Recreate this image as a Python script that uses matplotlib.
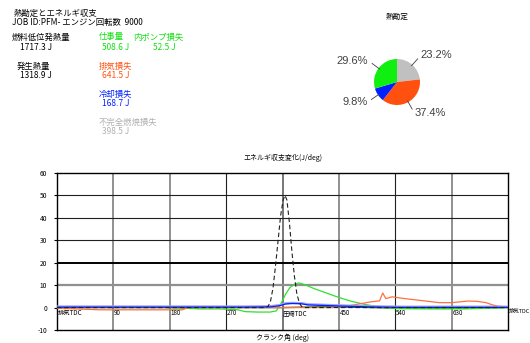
import matplotlib
matplotlib.use('Agg')
import matplotlib.pyplot as plt
import numpy as np

plt.rcParams['font.family'] = ['Noto Sans CJK JP', 'DejaVu Sans']

# 熱勘定 (J)
heat_labels = ['不完全燃焼損失', '排気損失', '冷却損失', '仕事量']
heat_values = [398.5, 641.5, 168.7, 508.6]
heat_colors = ['#c0c0c0', '#ff5010', '#0020ff', '#10f010']
fuel_lhv = 1717.3
heat_generated = 1318.9
pump_loss = 52.5
engine_speed = 9000

# エネルギ収支変化 (J/deg)
deg_heat = [0, 330, 337, 341, 345, 349, 353, 357, 361, 364, 367, 371, 375, 379, 383, 387, 391, 395, 720]
val_heat = [0, 0, 0.5, 3, 9, 19, 30, 41, 48, 50, 48, 38, 25, 14, 6, 2, 0.3, 0, 0]

deg_work = [0, 10, 60, 120, 160, 175, 200, 228, 260, 289, 300, 320, 340, 350, 358, 365, 372,
            380, 386, 395, 410, 430, 450, 470, 490, 510, 530, 545, 600, 650, 690, 720]
val_work = [0, 0.3, 0.3, 0.3, 0.3, 0, -0.3, -0.6, -0.6, -1, -1.8, -2, -2, -1.5, 2, 6, 9,
            10.5, 11, 10.3, 8.5, 6.5, 4.5, 2.8, 1.5, 0.5, -0.2, -0.5, -0.6, -0.6, -0.3, 0]

deg_cool = [0, 300, 340, 355, 365, 375, 390, 400, 420, 450, 500, 550, 720]
val_cool = [0.2, 0.2, 0.3, 0.8, 1.6, 1.8, 1.7, 1.2, 1.0, 0.7, 0.3, 0.1, 0.1]

deg_exh = [0, 20, 70, 150, 200, 210, 440, 460, 480, 500, 515, 520, 525, 535, 555, 580,
           610, 630, 645, 655, 670, 685, 695, 705, 720]
val_exh = [-0.3, -0.5, -1, -1, -1, 0, 0, 0.5, 1.5, 2.5, 3, 6.5, 4, 4.8, 4.0, 3.2,
           2.2, 2.2, 2.6, 2.9, 2.8, 2.2, 1.2, 0.6, 0.3]

deg_pump = [0, 180, 360, 420, 470, 540, 640, 720]
val_pump = [0, 0, 0, 0.3, 0.2, -0.2, -0.2, 0]

x_ticks = [0, 90, 180, 270, 360, 450, 540, 630, 720]
x_tick_labels = ['排気TDC', '90', '180', '270', '圧縮TDC', '450', '540', '630', '排気TDC']
y_ticks = [-10, 0, 10, 20, 30, 40, 50, 60]

fig = plt.figure(figsize=(5.3, 3.43), dpi=100)
fig.patch.set_facecolor('white')

# 上部のテキスト
fs = 6
fig.text(14 / 530, 1 - 13 / 343, '熱勘定とエネルギ収支', fontsize=fs, va='center')
fig.text(12 / 530, 1 - 23 / 343, f'JOB ID:PFM- エンジン回転数  {engine_speed}', fontsize=fs, va='center')
fig.text(12 / 530, 1 - 37 / 343, '燃料低位発熱量', fontsize=fs, va='center')
fig.text(20 / 530, 1 - 47 / 343, f'{fuel_lhv} J', fontsize=fs, va='center')
fig.text(17 / 530, 1 - 66 / 343, '発生熱量', fontsize=fs, va='center')
fig.text(20 / 530, 1 - 76 / 343, f'{heat_generated} J', fontsize=fs, va='center')

items = [('仕事量', heat_values[3], '#10e010', 99, 37),
         ('内ポンプ損失', pump_loss, '#10e010', 133, 37),
         ('排気損失', heat_values[1], '#ff5010', 99, 66),
         ('冷却損失', heat_values[2], '#0020ff', 99, 94),
         ('不完全燃焼損失', heat_values[0], '#b0b0b0', 99, 122)]
for name, v, c, px, py in items:
    fig.text(px / 530, 1 - py / 343, name, fontsize=fs, va='center', color=c)
    fig.text((px + 3 + (17 if name == '内ポンプ損失' else 0)) / 530, 1 - (py + 10) / 343,
             f'{v} J', fontsize=fs, va='center', color=c)

# 熱勘定の円グラフ
fig.text(397 / 530, 1 - 17 / 343, '熱勘定', fontsize=5.5, ha='center', va='center')
pax = fig.add_axes([374 / 530, 1 - 105 / 343, 46 / 530, 46 / 343])
total = sum(heat_values)
pax.pie(heat_values, colors=heat_colors, startangle=90, counterclock=False,
        labels=[f'{v / total * 100:.1f}%' for v in heat_values],
        labeldistance=1.55, textprops=dict(fontsize=8, color='#404040',
                                           family=['Liberation Sans']),
        wedgeprops=dict(linewidth=0))
# 引出線
cum = 0
for v in heat_values:
    mid = 90 - (cum + v / 2) / total * 360
    cum += v
    a = np.radians(mid)
    pax.plot([0.95 * np.cos(a), 1.35 * np.cos(a)], [0.95 * np.sin(a), 1.35 * np.sin(a)],
             color='#404040', lw=0.6, clip_on=False)
pax.set_xlim(-1, 1)
pax.set_ylim(-1, 1)
pax.set_aspect('equal')

# エネルギ収支変化
ax = fig.add_axes([57 / 530, 1 - 330 / 343, 451 / 530, 157 / 343])
ax.set_xlim(0, 720)
ax.set_ylim(-10, 60)

v_styles = {90: ('#909090', 1.4), 180: ('#909090', 1.4), 270: ('#202020', 0.8),
            360: ('#606060', 1.2), 450: ('#909090', 1.4), 540: ('#202020', 0.8),
            630: ('#909090', 1.4)}
for x, (c, lw) in v_styles.items():
    ax.axvline(x, color=c, lw=lw, zorder=1)
h_styles = {10: ('#909090', 1.6), 20: ('#000000', 1.4), 30: ('#202020', 0.8),
            40: ('#202020', 0.8), 50: ('#202020', 0.8)}
for y, (c, lw) in h_styles.items():
    ax.axhline(y, color=c, lw=lw, zorder=1)

ax.plot(deg_pump, val_pump, color='#006000', lw=1.0, zorder=3)
ax.plot(deg_work, val_work, color='#30e030', lw=0.9, zorder=4)
ax.plot(deg_exh, val_exh, color='#ff7040', lw=0.9, zorder=4)
ax.plot(deg_cool, [v + 0.3 for v in val_cool], color='#a0a0ff', lw=1.6, zorder=4)
ax.plot(deg_cool, val_cool, color='#0020ff', lw=0.9, zorder=5)
ax.plot(deg_heat, val_heat, color='#202020', lw=0.8, ls=(0, (4, 2.5)), zorder=6)

for x, lab in zip(x_ticks, x_tick_labels):
    # 右端のラベルは図の幅に収まるよう少し小さく
    size = 3.9 if x == x_ticks[-1] else 4.5
    ax.text(x + 1, -0.7, lab, fontsize=size, va='top', ha='left', zorder=7, clip_on=False)

ax.set_xticks([])
ax.set_yticks(y_ticks)
ax.set_yticklabels([str(t) for t in y_ticks], fontsize=4.8)
ax.tick_params(axis='y', length=2.2, width=0.8, pad=5)
for s in ax.spines.values():
    s.set_linewidth(1.0)

ax.set_title('エネルギ収支変化(J/deg)', fontsize=5, pad=9)
fig.text(283 / 530, 1 - 338 / 343, 'クランク角 (deg)', fontsize=5, ha='center', va='center')

fig.savefig('out.png', dpi=100, facecolor='white')
